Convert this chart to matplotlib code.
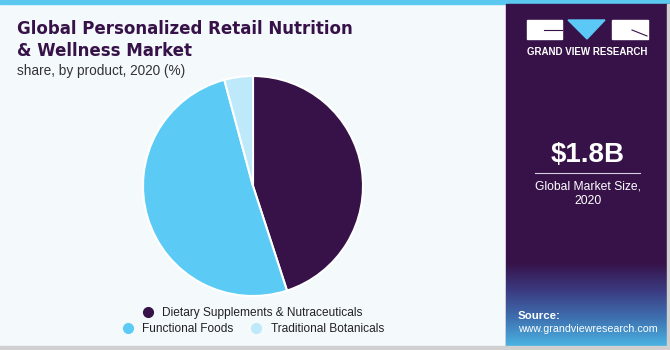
import numpy as np
import matplotlib.pyplot as plt
from matplotlib.patches import Rectangle, Polygon
from matplotlib.lines import Line2D
from matplotlib.colors import LinearSegmentedColormap

# data
products = ['Dietary Supplements & Nutraceuticals', 'Functional Foods', 'Traditional Botanicals']
shares = [45.0, 50.8, 4.2]
colors = ['#361248', '#5bcbf5', '#bde9fa']

title = 'Global Personalized Retail Nutrition\n& Wellness Market'
subtitle = 'share, by product, 2020 (%)'
market_size = '$1.8B'
market_label = 'Global Market Size,\n2020'

SANS = 'Liberation Sans'

W, H = 670, 350
fig = plt.figure(figsize=(W / 100, H / 100), dpi=100)
fig.patch.set_facecolor('#f4f9fc')

# background / decoration layer in pixel coordinates
bg = fig.add_axes([0, 0, 1, 1])
bg.set_xlim(0, W)
bg.set_ylim(H, 0)
bg.axis('off')

bg.add_patch(Rectangle((0, 0), W, 4, color='#5bc8f0', zorder=1))
bg.add_patch(Rectangle((506, 4), W - 506, H - 4, color='#361248', zorder=1))
grad = LinearSegmentedColormap.from_list('g', ['#361248', '#3b3a80', '#3e70b0', '#4ab2e2'])
bg.imshow(np.linspace(0, 1, 100).reshape(-1, 1), cmap=grad, aspect='auto',
          extent=[506, W, 346, 262], zorder=2)
bg.add_patch(Rectangle((0, 346), W, 4, color='#d0d0d0', zorder=3))
bg.add_patch(Rectangle((667, 4), 3, H - 4, color='#d0d0d0', zorder=3))

# logo
bg.add_patch(Rectangle((527, 20), 35, 19, color='white', zorder=3))
bg.add_patch(Polygon([(568, 20), (605, 20), (587, 39)], color='#5bc8f5', zorder=3))
bg.add_patch(Rectangle((612, 20), 36, 19, color='white', zorder=3))
bg.plot([544, 562], [30, 30], color='#361248', lw=0.8, zorder=4)
bg.plot([632, 647], [30, 36], color='#361248', lw=0.8, zorder=4)
bg.text(587.5, 52, 'GRAND VIEW RESEARCH', color='white', fontsize=7, fontweight='bold',
        family=SANS, ha='center', va='center', zorder=4)

bg.text(588, 155, market_size, color='white', fontsize=20, fontweight='bold',
        family=SANS, ha='center', va='center', zorder=4)
bg.plot([535, 640], [173, 173], color='#d8d0e0', lw=0.8, zorder=4)
bg.text(588, 194, market_label, color='white', fontsize=8.7, family=SANS,
        ha='center', va='center', linespacing=1.3, zorder=4)
bg.text(518, 316, 'Source:', color='white', fontsize=8.2, fontweight='bold',
        family=SANS, ha='left', va='center', zorder=4)
bg.text(518, 329, 'www.grandviewresearch.com', color='white', fontsize=7.7,
        family=SANS, ha='left', va='center', zorder=4)

# titles
bg.text(17, 40, title, color='#361248', fontsize=12.0, fontweight='heavy',
        ha='left', va='center', linespacing=1.22, zorder=4)
bg.text(17, 71, subtitle, color='#333333', fontsize=9.8, family=SANS,
        ha='left', va='center', zorder=4)

# pie
cx, cy, r = 253, 186, 110
ax = fig.add_axes([(cx - r) / W, (H - cy - r) / H, 2 * r / W, 2 * r / H])
ax.pie(shares, colors=colors, startangle=90, counterclock=False,
       wedgeprops=dict(edgecolor='white', linewidth=1.5))
ax.set_xlim(-1, 1)
ax.set_ylim(-1, 1)
ax.set_aspect('auto')

handles = [Line2D([], [], marker='o', linestyle='none', markersize=7,
                  markerfacecolor=c, markeredgecolor=c) for c in colors]
leg_font = dict(family=SANS, size=8.6)
leg1 = fig.legend(handles[:1], products[:1], loc='center',
                  bbox_to_anchor=(249 / W, 1 - 313 / H), frameon=False,
                  prop=leg_font, handletextpad=0.2, borderaxespad=0)
leg2 = fig.legend(handles[1:], products[1:], loc='center', ncol=2,
                  bbox_to_anchor=(250 / W, 1 - 329 / H), frameon=False,
                  prop=leg_font, handletextpad=0.2, columnspacing=0.9, borderaxespad=0)
for leg in (leg1, leg2):
    for t in leg.get_texts():
        t.set_color('#222222')

fig.savefig('out.png', dpi=100, facecolor=fig.get_facecolor())
